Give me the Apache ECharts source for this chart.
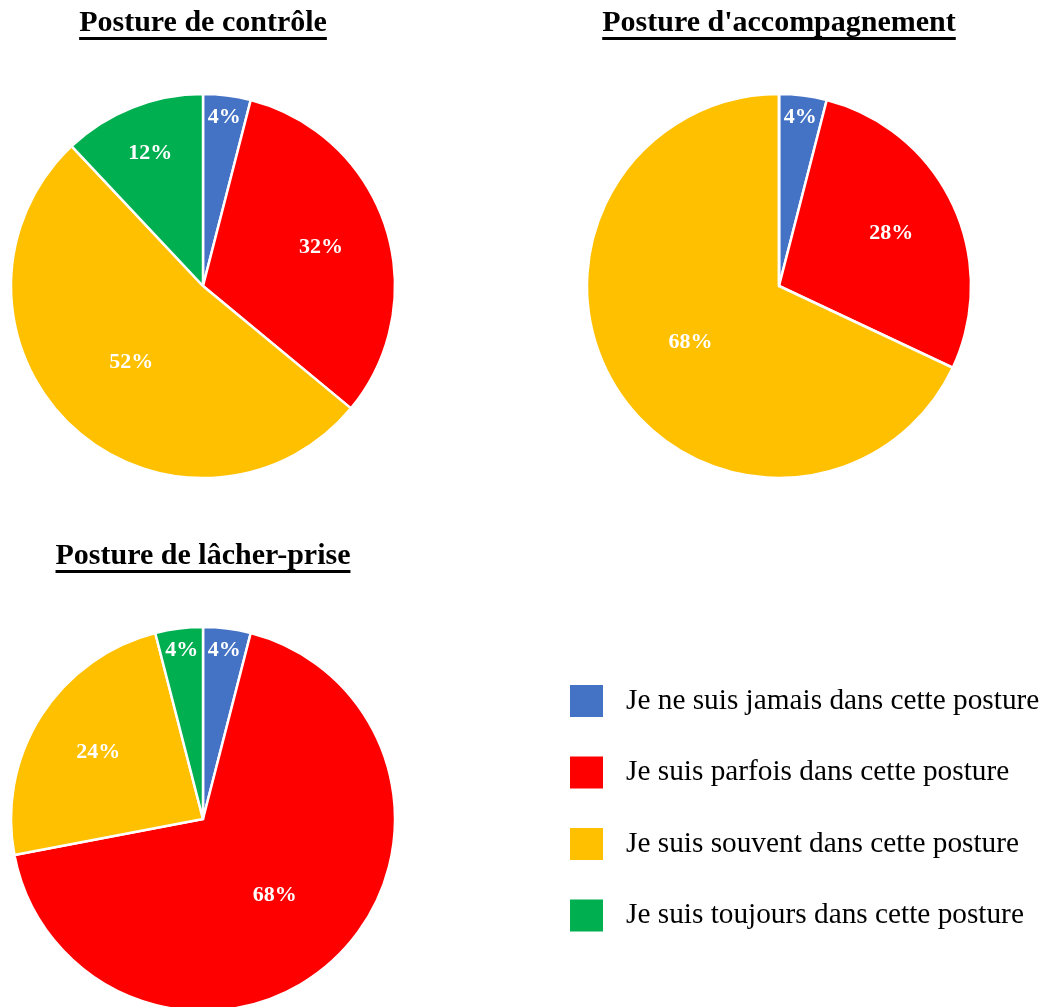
<!DOCTYPE html>
<html>
<head>
<meta charset="utf-8">
<script src="https://cdn.jsdelivr.net/npm/echarts@6/dist/echarts.min.js"></script>
<style>
  html, body { margin: 0; padding: 0; background: #fff; }
  #chart { width: 1048px; height: 1007px; }
</style>
</head>
<body>
<div id="chart"></div>
<script>
const categories = [
  'Je ne suis jamais dans cette posture',
  'Je suis parfois dans cette posture',
  'Je suis souvent dans cette posture',
  'Je suis toujours dans cette posture'
];
const colors = ['#4472C4', '#FF0000', '#FFC000', '#00B050'];
const titles = ['Posture de contrôle', "Posture d'accompagnement", 'Posture de lâcher-prise'];
const controleValues = [4, 32, 52, 12];
const accompagnementValues = [4, 28, 68, 0];
const lacherPriseValues = [4, 68, 24, 4];

const pies = [
  { values: controleValues, center: [203, 286], titleY: 23 },
  { values: accompagnementValues, center: [779, 286], titleY: 23 },
  { values: lacherPriseValues, center: [203, 819], titleY: 556 }
];
const radius = 192;
const serif = '"Liberation Serif", "Times New Roman", serif';
const titleFont = 'bold 30px ' + serif;

// label rings: small slices get their label near the rim, like the original
const labelTiers = [
  { test: v => v > 0 && v < 10, frac: 0.87 },
  { test: v => v >= 10 && v < 20, frac: 0.73 },
  { test: v => v >= 20 && v < 50, frac: 0.63 },
  { test: v => v >= 50, frac: 0.53 }
];

function measure(text, font) {
  const ctx = document.createElement('canvas').getContext('2d');
  ctx.font = font;
  return ctx.measureText(text).width;
}

const series = [];
const graphic = [];

pies.forEach((pie, i) => {
  series.push({
    type: 'pie',
    center: pie.center,
    radius: [0, radius],
    startAngle: 90,
    clockwise: true,
    silent: true,
    label: { show: false },
    labelLine: { show: false },
    emphasis: { disabled: true },
    itemStyle: { borderColor: '#fff', borderWidth: 2.5 },
    data: categories.map((name, k) => ({
      name: name,
      value: pie.values[k],
      itemStyle: { color: colors[k] }
    }))
  });

  labelTiers.forEach(tier => {
    series.push({
      type: 'pie',
      center: pie.center,
      radius: [radius * (2 * tier.frac - 1), radius],
      startAngle: 90,
      clockwise: true,
      silent: true,
      z: 5,
      emphasis: { disabled: true },
      labelLine: { show: false },
      itemStyle: { color: 'rgba(0,0,0,0)', borderWidth: 0 },
      label: {
        position: 'inside',
        formatter: '{c}%',
        color: '#fff',
        fontFamily: serif,
        fontWeight: 'bold',
        fontSize: 22
      },
      data: categories.map((name, k) => ({
        name: name,
        value: pie.values[k],
        label: { show: tier.test(pie.values[k]) }
      }))
    });
  });

  const w = measure(titles[i], titleFont);
  graphic.push({
    type: 'text',
    x: pie.center[0],
    y: pie.titleY,
    style: {
      text: titles[i],
      font: titleFont,
      fill: '#000',
      align: 'center',
      verticalAlign: 'middle'
    }
  });
  graphic.push({
    type: 'rect',
    shape: { x: pie.center[0] - w / 2, y: pie.titleY + 14, width: w, height: 3 },
    style: { fill: '#000' }
  });
});

const chart = echarts.init(document.getElementById('chart'));
chart.setOption({
  animation: false,
  legend: {
    orient: 'vertical',
    left: 570,
    top: 685,
    padding: 0,
    itemWidth: 33,
    itemHeight: 32,
    itemGap: 39.5,
    icon: 'rect',
    selectedMode: false,
    itemStyle: { borderWidth: 0 },
    data: categories.map((name, k) => ({
      name: name,
      itemStyle: { color: colors[k], borderWidth: 0 }
    })),
    textStyle: {
      fontFamily: serif,
      fontSize: 29.3,
      color: '#000',
      lineHeight: 32,
      padding: [0, 0, 0, 18]
    }
  },
  graphic: graphic,
  series: series
});
</script>
</body>
</html>
